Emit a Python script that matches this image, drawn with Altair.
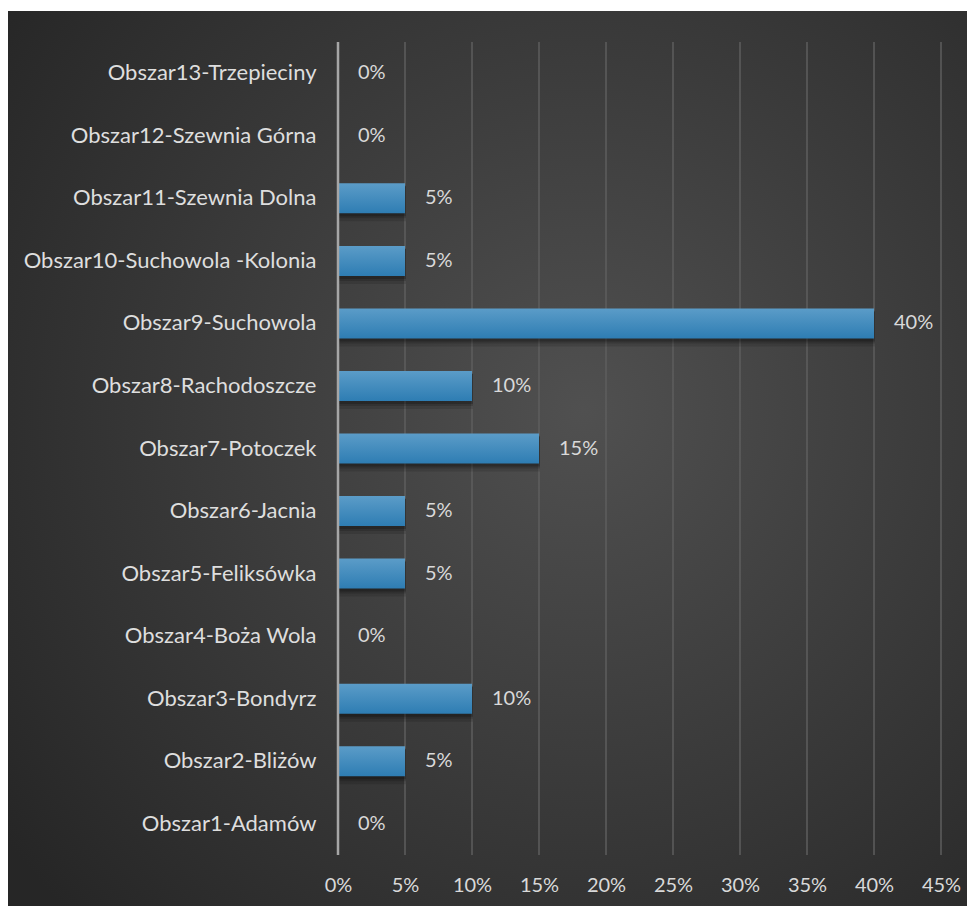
import altair as alt
import pandas as pd

categories = [
    "Obszar13-Trzepieciny",
    "Obszar12-Szewnia Górna",
    "Obszar11-Szewnia Dolna",
    "Obszar10-Suchowola -Kolonia",
    "Obszar9-Suchowola",
    "Obszar8-Rachodoszcze",
    "Obszar7-Potoczek",
    "Obszar6-Jacnia",
    "Obszar5-Feliksówka",
    "Obszar4-Boża Wola",
    "Obszar3-Bondyrz",
    "Obszar2-Bliżów",
    "Obszar1-Adamów",
]
values = [0.0, 0.0, 0.05, 0.05, 0.40, 0.10, 0.15, 0.05, 0.05, 0.0, 0.10, 0.05, 0.0]
x_ticks = [0, 0.05, 0.10, 0.15, 0.20, 0.25, 0.30, 0.35, 0.40, 0.45]

df = pd.DataFrame({"cat": categories, "val": values})
df["label"] = [f"{round(v * 100)}%" for v in values]

W, H = 603, 813
PAD = {"left": 330, "top": 34, "right": 26, "bottom": 51}
FONT = "Lato"
FS = 20

xscale = alt.Scale(domain=[0, 0.45], nice=False)
yscale = alt.Scale(domain=categories, paddingInner=0.52, paddingOuter=0.26)

xaxis = alt.Axis(
    title=None, values=x_ticks, format=".0%", grid=False,
    labelFont=FONT, labelFontSize=FS, labelColor="#d9d9d9", labelFlush=False,
    ticks=False, domain=False, labelPadding=20, zindex=2,
)
yaxis = alt.Axis(
    title=None, labelFont=FONT, labelFontSize=22, labelColor="#dedede",
    ticks=False, domain=False, labelPadding=22, labelLimit=400, zindex=2,
)

bg = alt.Chart(df).mark_rect(
    fill=alt.RadialGradient(
        gradient="radial",
        x1=0.6, y1=0.45, r1=0.0,
        x2=0.6, y2=0.45, r2=0.75,
        stops=[
            alt.GradientStop(offset=0, color="#505050"),
            alt.GradientStop(offset=1, color="#262626"),
        ],
    )
).encode(
    x=alt.value(-PAD["left"]),
    x2=alt.value(W + PAD["right"]),
    y=alt.value(-PAD["top"] + 3),
    y2=alt.value(H + PAD["bottom"]),
)

base = alt.Chart(df)

grid = alt.Chart(pd.DataFrame({"val": x_ticks[1:]})).mark_rule(
    color="#5e5e5e", strokeWidth=1.5
).encode(x=alt.X("val:Q", scale=xscale, axis=xaxis))

shadows = [
    base.mark_bar(color="#000000", opacity=op, size=30 + grow, xOffset=1, yOffset=dy).encode(
        y=alt.Y("cat:N", scale=yscale, axis=yaxis),
        x=alt.X("val:Q", scale=xscale, axis=xaxis),
    )
    for op, grow, dy in [(0.12, 6, 5), (0.15, 2, 4), (0.2, 0, 3)]
]

bars = base.mark_bar(
    size=30,
    fill=alt.LinearGradient(
        gradient="linear",
        x1=0, y1=0, x2=0, y2=1,
        stops=[
            alt.GradientStop(offset=0, color="#5b9cc8"),
            alt.GradientStop(offset=1, color="#2e7db3"),
        ],
    ),
).encode(
    y=alt.Y("cat:N", scale=yscale, axis=yaxis),
    x=alt.X("val:Q", scale=xscale, axis=xaxis),
)

axisline = alt.Chart(pd.DataFrame({"val": [0]})).mark_rule(
    color="#a6a6a6", strokeWidth=2.5
).encode(x=alt.X("val:Q", scale=xscale, axis=xaxis))

labels = base.mark_text(
    align="left", baseline="middle", dx=20, font=FONT, fontSize=FS, color="#d9d9d9"
).encode(
    y=alt.Y("cat:N", scale=yscale, axis=yaxis),
    x=alt.X("val:Q", scale=xscale, axis=xaxis),
    text="label:N",
)

chart = alt.layer(bg, grid, *shadows, bars, axisline, labels).properties(
    width=W, height=H,
    autosize=alt.AutoSizeParams(type="none"),
    padding=PAD,
    background="white",
).configure_view(stroke=None).configure_axis(zindex=2)

chart.save("out.html", embed_options={"renderer": "svg", "actions": False})
